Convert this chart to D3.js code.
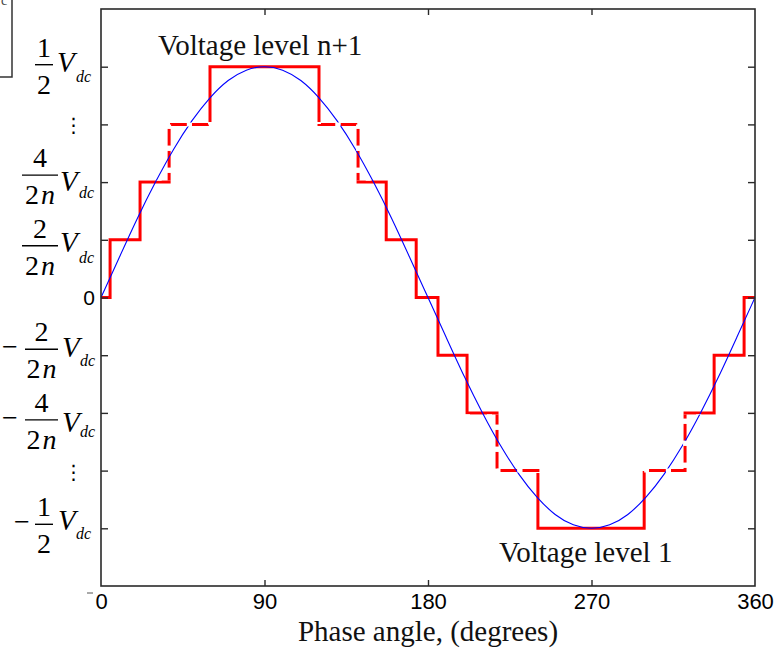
<!DOCTYPE html>
<html><head><meta charset="utf-8">
<script src="https://cdn.jsdelivr.net/npm/d3@7"></script>
<style>body{margin:0;background:#fff}svg{display:block}</style>
</head><body>
<svg id="c" width="778" height="652"></svg>
<script>
// ---------- data ----------
const xTicks = [0, 90, 180, 270, 360];
const xTickLabels = ["0", "90", "180", "270", "360"];
const yTicks = [-4, -3, -2, -1, 0, 1, 2, 3, 4];

// reference sine (in units of one voltage step), sampled every 10 degrees
const sineAngles = [0,10,20,30,40,50,60,70,80,90,100,110,120,130,140,150,160,170,180,
  190,200,210,220,230,240,250,260,270,280,290,300,310,320,330,340,350,360];
const sineValues = [0,0.69,1.37,2.00,2.57,3.06,3.46,3.76,3.94,4.00,3.94,3.76,3.46,3.06,2.57,2.00,1.37,0.69,0,
  -0.69,-1.37,-2.00,-2.57,-3.06,-3.46,-3.76,-3.94,-4.00,-3.94,-3.76,-3.46,-3.06,-2.57,-2.00,-1.37,-0.69,0];

// staircase: level held from each switching angle to the next
const stepAngles = [0, 5, 21.5, 37.5, 60, 120, 141.5, 157, 173.5, 185.5, 201.5, 218, 240.5, 299, 321.5, 337.5, 354, 360];
const stepLevels = [0, 1, 2, 3, 4, 3, 2, 1, 0, -1, -2, -3, -4, -3, -2, -1, 0, 0];

// y tick labels
const yLabelValues = [4, 3, 2, 1, 0, -1, -2, -3, -4];
const yLabelKinds  = ["frac","dots","frac","frac","zero","frac","frac","dots","frac"];
const yLabelSigns  = ["", "", "", "", "", "\u2212", "\u2212", "", "\u2212"];
const yLabelNums   = ["1", "", "4", "2", "0", "2", "4", "", "1"];
const yLabelDens   = ["2", "", "2n", "2n", "", "2n", "2n", "", "2"];

const annotTop = "Voltage level n+1";
const annotBottom = "Voltage level 1";
const xTitle = "Phase angle, (degrees)";

// ---------- layout ----------
const L = 101, R = 755, T = 9, B = 586;
const svg = d3.select("#c");
const x = d3.scaleLinear().domain([0, 360]).range([L, R]);
const y = d3.scaleLinear().domain([-5, 5]).range([B, T]);
const serif = "'Liberation Serif','Times New Roman',Times,serif";
const sans = "'Liberation Sans',Arial,Helvetica,sans-serif";

// remnant box at top-left
svg.append("path").attr("d", "M0,77H12V0").attr("fill", "none").attr("stroke", "#333").attr("stroke-width", 1.5);
svg.append("text").attr("x", 1).attr("y", 5).attr("font-family", serif).attr("font-size", 14).attr("fill", "#444").text("c");

// clip regions: band between |2| and |3| levels
const defs = svg.append("defs");
const band = defs.append("clipPath").attr("id", "band");
band.append("rect").attr("x", L - 10).attr("width", R - L + 20).attr("y", y(3) - 2.5).attr("height", (y(2) - 1.7) - (y(3) - 2.5));
band.append("rect").attr("x", L - 10).attr("width", R - L + 20).attr("y", y(-2) + 1.7).attr("height", (y(-3) + 2.5) - (y(-2) + 1.7));
const outside = defs.append("clipPath").attr("id", "outside");
outside.append("rect").attr("x", L - 10).attr("width", R - L + 20).attr("y", 0).attr("height", y(3) - 2.5);
outside.append("rect").attr("x", L - 10).attr("width", R - L + 20).attr("y", y(2) - 1.7).attr("height", (y(-2) + 1.7) - (y(2) - 1.7));
outside.append("rect").attr("x", L - 10).attr("width", R - L + 20).attr("y", y(-3) + 2.5).attr("height", 652);

// ---------- marks ----------
const stepPts = stepAngles.map((a, i) => [a, stepLevels[i]]);
const stepLine = d3.line().x(d => x(d[0])).y(d => y(d[1])).curve(d3.curveStepAfter);
const sinePts = sineAngles.map((a, i) => [a, sineValues[i]]);
const sineLine = d3.line().x(d => x(d[0])).y(d => y(d[1])).curve(d3.curveNatural);

svg.append("path").attr("d", stepLine(stepPts)).attr("fill", "none").attr("stroke", "#ff0000")
  .attr("stroke-width", 3).attr("clip-path", "url(#outside)");
svg.append("path").attr("d", stepLine(stepPts)).attr("fill", "none").attr("stroke", "#ff0000")
  .attr("stroke-width", 3).attr("stroke-dasharray", "17,5").attr("clip-path", "url(#band)");
svg.append("path").attr("d", sineLine(sinePts)).attr("fill", "none").attr("stroke", "#0000ff")
  .attr("stroke-width", 1.1);
svg.append("path").attr("d", stepLine(stepPts)).attr("fill", "none").attr("stroke", "#fff")
  .attr("stroke-width", 4).attr("stroke-dasharray", "0,17,5,0").attr("clip-path", "url(#band)");

// ---------- axes / frame ----------
const axCol = "#2a2a2a";
svg.append("rect").attr("x", L).attr("y", T).attr("width", R - L).attr("height", B - T)
  .attr("fill", "none").attr("stroke", axCol).attr("stroke-width", 1.6);

function styleAxis(g) {
  g.select(".domain").remove();
  g.selectAll(".tick line").attr("stroke", axCol).attr("stroke-width", 1.4);
}
svg.append("g").attr("transform", `translate(${L},0)`)
  .call(d3.axisLeft(y).tickValues(yTicks).tickSize(-7).tickFormat(""))
  .call(styleAxis);
svg.append("g").attr("transform", `translate(${R},0)`)
  .call(d3.axisRight(y).tickValues(yTicks).tickSize(-7).tickFormat(""))
  .call(styleAxis);
svg.append("g").attr("transform", `translate(0,${T})`)
  .call(d3.axisTop(x).tickValues(xTicks.slice(1, -1)).tickSize(-6).tickFormat(""))
  .call(styleAxis);
const xb = svg.append("g").attr("transform", `translate(0,${B})`)
  .call(d3.axisBottom(x).tickValues(xTicks).tickSize(-6).tickPadding(7).tickFormat((d, i) => xTickLabels[i]))
  .call(styleAxis);
xb.selectAll(".tick line").filter(d => d === 0 || d === 360).remove();
xb.selectAll(".tick text").attr("font-family", sans).attr("font-size", 22).attr("fill", "#000");
// small remnant dash next to the "0" label
svg.append("line").attr("x1", 87).attr("x2", 93).attr("y1", 593).attr("y2", 593).attr("stroke", "#555").attr("stroke-width", 1);

// ---------- y tick labels ----------
// positional layout per label (bar offset from tick, x-range, V and subscript placement)
const yLabelLayout = {
  "4":  {bar: -2, x1: 35, x2: 53, sx: 0,  vx: 57, vdy: 5,  dcx: 76, dcdy: 15},
  "2":  {bar: -7, x1: 22, x2: 58, sx: 0,  vx: 60, vdy: 9,  dcx: 79, dcdy: 16},
  "1":  {bar: 6,  x1: 22, x2: 58, sx: 0,  vx: 60, vdy: 12, dcx: 79, dcdy: 23},
  "-1": {bar: -6, x1: 25, x2: 58, sx: 2,  vx: 62, vdy: 2,  dcx: 80, dcdy: 11},
  "-2": {bar: 7,  x1: 25, x2: 58, sx: 2,  vx: 62, vdy: 19, dcx: 80, dcdy: 24},
  "-4": {bar: -4, x1: 35, x2: 53, sx: 14, vx: 58, vdy: 2,  dcx: 76, dcdy: 11}
};
const yl = svg.append("g").attr("fill", "#000");
yLabelValues.forEach((v, i) => {
  const ty = y(v);
  const kind = yLabelKinds[i];
  if (kind === "zero") {
    yl.append("text").attr("x", 89).attr("y", ty + 7.5).attr("text-anchor", "middle")
      .attr("font-family", sans).attr("font-size", 21).text(yLabelNums[i]);
    return;
  }
  if (kind === "dots") {
    yl.append("text").attr("x", 73.5).attr("y", ty + 8).attr("text-anchor", "middle")
      .attr("font-family", "'DejaVu Serif','DejaVu Sans',serif").attr("font-size", 20).text("\u22EE");
    return;
  }
  const lay = yLabelLayout[String(v)];
  const by = ty + lay.bar;
  const cx = (lay.x1 + lay.x2) / 2;
  if (yLabelSigns[i]) {
    yl.append("text").attr("x", lay.sx).attr("y", by + 7).attr("font-family", serif)
      .attr("font-size", 28).text(yLabelSigns[i]);
  }
  yl.append("line").attr("x1", lay.x1).attr("x2", lay.x2).attr("y1", by).attr("y2", by)
    .attr("stroke", "#000").attr("stroke-width", 1.4);
  yl.append("text").attr("x", cx).attr("y", by - 8).attr("text-anchor", "middle")
    .attr("font-family", serif).attr("font-size", 28).text(yLabelNums[i]);
  const den = yl.append("text").attr("x", cx).attr("y", by + 29).attr("text-anchor", "middle")
    .attr("font-family", serif).attr("font-size", 28);
  const dstr = yLabelDens[i];
  den.append("tspan").text(dstr[0]);
  if (dstr.length > 1) den.append("tspan").attr("dx", 2).attr("font-style", "italic").text(dstr.slice(1));
  yl.append("text").attr("x", lay.vx).attr("y", ty + lay.vdy).attr("font-family", serif)
    .attr("font-style", "italic").attr("font-size", 29).text("V");
  yl.append("text").attr("x", lay.dcx).attr("y", ty + lay.dcdy).attr("font-family", serif)
    .attr("font-style", "italic").attr("font-size", 16).text("dc");
});

// ---------- annotations ----------
svg.append("text").attr("x", 158).attr("y", 55).attr("font-family", serif).attr("font-size", 29)
  .attr("fill", "#111").text(annotTop);
svg.append("text").attr("x", 499).attr("y", 562).attr("font-family", serif).attr("font-size", 29)
  .attr("fill", "#111").text(annotBottom);
svg.append("text").attr("x", 428).attr("y", 641).attr("text-anchor", "middle").attr("font-family", serif)
  .attr("font-size", 29).attr("fill", "#111").text(xTitle);
</script>
</body></html>
